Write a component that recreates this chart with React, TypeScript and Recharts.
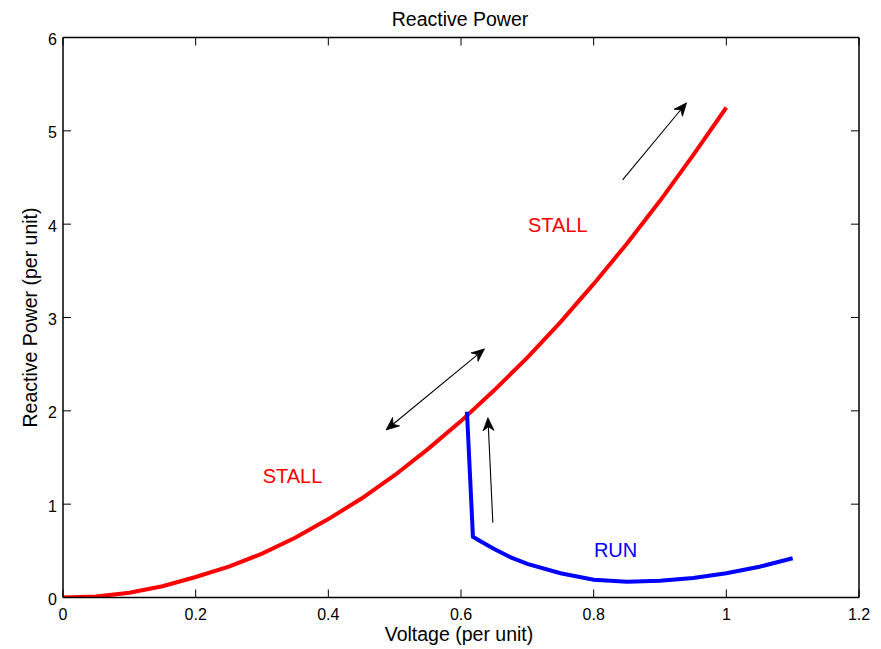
import React from 'react';
import { LineChart, Line, XAxis, YAxis, ReferenceLine, ReferenceDot } from 'recharts';

// Stall branch (red)
const stallV = [0, 0.05, 0.1, 0.15, 0.2, 0.25, 0.3, 0.35, 0.4, 0.45, 0.5, 0.55, 0.6, 0.65, 0.7, 0.75, 0.8, 0.85, 0.9, 0.95, 1.0];
const stallQ = [0.0, 0.01, 0.05, 0.12, 0.22, 0.33, 0.47, 0.64, 0.84, 1.06, 1.31, 1.59, 1.89, 2.22, 2.57, 2.95, 3.36, 3.79, 4.25, 4.74, 5.25];

// Run branch (blue)
const runV = [0.609, 0.618, 0.63, 0.65, 0.675, 0.7, 0.75, 0.8, 0.85, 0.9, 0.95, 1.0, 1.05, 1.1];
const runQ = [1.99, 0.65, 0.6, 0.52, 0.43, 0.36, 0.26, 0.19, 0.17, 0.18, 0.21, 0.26, 0.33, 0.42];

const xTicks = [0, 0.2, 0.4, 0.6, 0.8, 1, 1.2];
const yTicks = [0, 1, 2, 3, 4, 5, 6];

// Annotation arrows: from point, to point (head at "to"), double-headed flag
const arrowFrom = [[0.8436, 4.475], [0.487, 1.795], [0.648, 0.802]];
const arrowTo = [[0.94, 5.3], [0.6355, 2.664], [0.6406, 1.927]];
const arrowDouble = [false, true, false];

// Text annotations
const noteText = ['STALL', 'STALL', 'RUN'];
const notePos = [[0.746, 3.995], [0.346, 1.3], [0.833, 0.513]];
const noteColor = ['#ff0000', '#ff0000', '#0000ff'];

const stallData = stallV.map((v, i) => ({ v, q: stallQ[i] }));
const runData = runV.map((v, i) => ({ v, q: runQ[i] }));

const FONT = '"Liberation Sans", Arial, sans-serif';
const TICK_LEN = 8;

const BottomTick = (props: any) => {
  const { x, y, payload } = props;
  return (
    <g>
      <line x1={x} y1={y} x2={x} y2={y - TICK_LEN} stroke="#000" strokeWidth={1} />
      <text x={x} y={y + 22} textAnchor="middle" fontFamily={FONT} fontSize={16} fill="#000">
        {String(payload.value)}
      </text>
    </g>
  );
};

const TopTick = (props: any) => {
  const { x, y } = props;
  return <line x1={x} y1={y} x2={x} y2={y + TICK_LEN} stroke="#000" strokeWidth={1} />;
};

const LeftTick = (props: any) => {
  const { x, y, payload } = props;
  return (
    <g>
      <line x1={x} y1={y} x2={x + TICK_LEN} y2={y} stroke="#000" strokeWidth={1} />
      <text x={x - 6} y={y + 7.5} textAnchor="end" fontFamily={FONT} fontSize={16} fill="#000">
        {String(payload.value)}
      </text>
    </g>
  );
};

const RightTick = (props: any) => {
  const { x, y } = props;
  return <line x1={x} y1={y} x2={x - TICK_LEN} y2={y} stroke="#000" strokeWidth={1} />;
};

const head = (tx: number, ty: number, dx: number, dy: number) => {
  const L = 13;
  const W = 5.5;
  const N = 9;
  const nx = -dy;
  const ny = dx;
  const p = [
    [tx, ty],
    [tx - dx * L + nx * W, ty - dy * L + ny * W],
    [tx - dx * N, ty - dy * N],
    [tx - dx * L - nx * W, ty - dy * L - ny * W],
  ];
  return <polygon points={p.map((q) => q.join(',')).join(' ')} fill="#000" stroke="#000" strokeWidth={0.8} strokeLinejoin="round" />;
};

const makeArrow = (double: boolean) => (props: any) => {
  const { x1, y1, x2, y2 } = props;
  const len = Math.hypot(x2 - x1, y2 - y1) || 1;
  const dx = (x2 - x1) / len;
  const dy = (y2 - y1) / len;
  const sx = double ? x1 + dx * 9 : x1;
  const sy = double ? y1 + dy * 9 : y1;
  return (
    <g>
      <line x1={sx} y1={sy} x2={x2 - dx * 9} y2={y2 - dy * 9} stroke="#000" strokeWidth={1.1} />
      {head(x2, y2, dx, dy)}
      {double ? head(x1, y1, -dx, -dy) : null}
    </g>
  );
};

const makeNote = (text: string, color: string) => (props: any) => {
  const { cx, cy } = props;
  return (
    <text x={cx} y={cy + 7} textAnchor="middle" fontFamily={FONT} fontSize={20} fill={color}>
      {text}
    </text>
  );
};

export default function App() {
  return (
    <div style={{ position: 'absolute', left: 0, top: 0, width: 881, height: 649, background: '#fff' }}>
      <LineChart
        width={881}
        height={649}
        margin={{ top: 0, right: 0, bottom: 0, left: 0 }}
      >
        <XAxis
          dataKey="v"
          type="number"
          domain={[0, 1.2]}
          ticks={xTicks}
          interval={0}
          height={51.5}
          tickSize={0}
          tickMargin={0}
          tickLine={false}
          tick={<BottomTick />}
          axisLine={{ stroke: '#000', strokeWidth: 1.5 }}
          allowDataOverflow
        />
        <XAxis
          xAxisId="top"
          orientation="top"
          dataKey="v"
          type="number"
          domain={[0, 1.2]}
          ticks={xTicks}
          interval={0}
          height={37.5}
          tickSize={0}
          tickMargin={0}
          tickLine={false}
          tick={<TopTick />}
          axisLine={{ stroke: '#000', strokeWidth: 1.5 }}
          allowDataOverflow
        />
        <YAxis
          type="number"
          domain={[0, 6]}
          ticks={yTicks}
          interval={0}
          width={63}
          tickSize={0}
          tickMargin={0}
          tickLine={false}
          tick={<LeftTick />}
          axisLine={{ stroke: '#000', strokeWidth: 1.5 }}
          allowDataOverflow
        />
        <YAxis
          yAxisId="right"
          orientation="right"
          type="number"
          domain={[0, 6]}
          ticks={yTicks}
          interval={0}
          width={22}
          tickSize={0}
          tickMargin={0}
          tickLine={false}
          tick={<RightTick />}
          axisLine={{ stroke: '#000', strokeWidth: 1.5 }}
          allowDataOverflow
        />
        <Line
          data={stallData}
          dataKey="q"
          type="linear"
          stroke="#ff0000"
          strokeWidth={4}
          dot={false}
          isAnimationActive={false}
        />
        <Line
          data={runData}
          dataKey="q"
          type="linear"
          stroke="#0000ff"
          strokeWidth={4}
          dot={false}
          isAnimationActive={false}
        />
        {arrowFrom.map((f, i) => (
          <ReferenceLine
            key={'a' + i}
            segment={[
              { x: f[0], y: f[1] },
              { x: arrowTo[i][0], y: arrowTo[i][1] },
            ]}
            shape={makeArrow(arrowDouble[i])}
            ifOverflow="visible"
          />
        ))}
        {notePos.map((p, i) => (
          <ReferenceDot
            key={'n' + i}
            x={p[0]}
            y={p[1]}
            r={0}
            shape={makeNote(noteText[i], noteColor[i])}
            ifOverflow="visible"
          />
        ))}
      </LineChart>
      <svg
        width={881}
        height={649}
        style={{ position: 'absolute', left: 0, top: 0, pointerEvents: 'none' }}
      >
        <text x={460} y={25.5} textAnchor="middle" fontFamily={FONT} fontSize={19.5} fill="#000">
          Reactive Power
        </text>
        <text x={459} y={641} textAnchor="middle" fontFamily={FONT} fontSize={19.5} fill="#000">
          Voltage (per unit)
        </text>
        <text
          x={37}
          y={317.5}
          textAnchor="middle"
          fontFamily={FONT}
          fontSize={19.5}
          fill="#000"
          transform="rotate(-90 37 317.5)"
        >
          Reactive Power (per unit)
        </text>
      </svg>
    </div>
  );
}
